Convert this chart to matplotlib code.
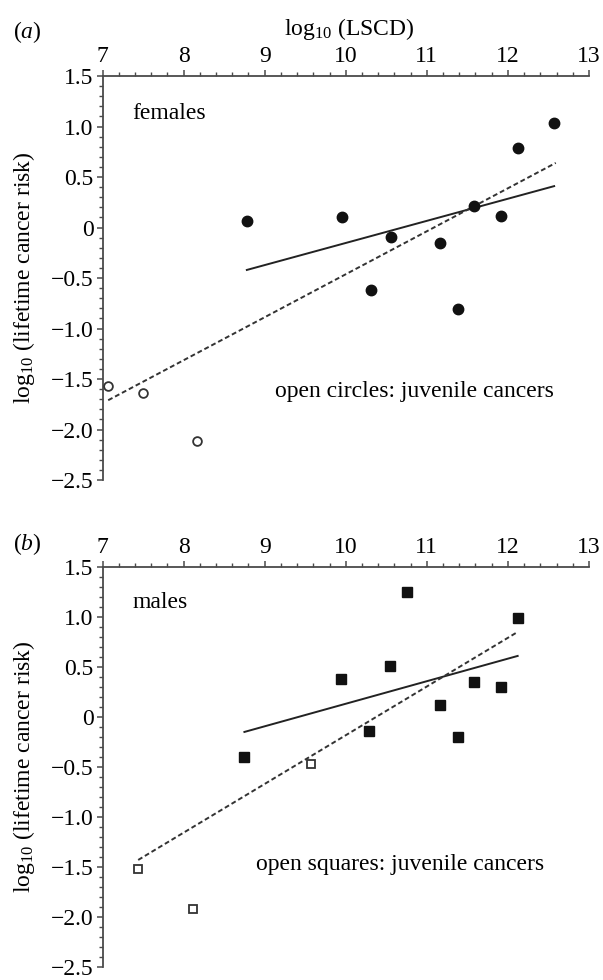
import matplotlib
matplotlib.use('Agg')
import matplotlib.pyplot as plt
from matplotlib.ticker import MultipleLocator
import numpy as np

plt.rcParams['font.family'] = ['Liberation Serif', 'DejaVu Serif']
plt.rcParams['mathtext.fontset'] = 'custom'
plt.rcParams['mathtext.rm'] = 'Liberation Serif'
plt.rcParams['mathtext.it'] = 'Liberation Serif:italic'

# (a) females
f_x = [8.78, 9.95, 10.31, 10.56, 11.16, 11.39, 11.58, 11.92, 12.12, 12.57]
f_y = [0.06, 0.10, -0.62, -0.09, -0.15, -0.81, 0.21, 0.11, 0.79, 1.04]
f_juv_x = [7.07, 7.50, 8.16]
f_juv_y = [-1.57, -1.64, -2.11]
f_fit_x = [8.78, 12.57]
f_fit_y = [-0.42, 0.41]
f_fit_all_x = [7.07, 12.59]
f_fit_all_y = [-1.71, 0.64]

# (b) males
m_x = [8.74, 9.94, 10.29, 10.55, 10.75, 11.16, 11.39, 11.58, 11.92, 12.12]
m_y = [-0.40, 0.38, -0.14, 0.51, 1.25, 0.12, -0.20, 0.35, 0.30, 0.99]
m_juv_x = [7.44, 8.12, 9.57]
m_juv_y = [-1.52, -1.92, -0.47]
m_fit_x = [8.75, 12.12]
m_fit_y = [-0.15, 0.61]
m_fit_all_x = [7.44, 12.12]
m_fit_all_y = [-1.43, 0.85]

xticks = [7, 8, 9, 10, 11, 12, 13]
yticks = [1.5, 1.0, 0.5, 0, -0.5, -1.0, -1.5, -2.0, -2.5]
ytick_labels = ['1.5', '1.0', '0.5', '0', '\u22120.5', '\u22121.0', '\u22121.5', '\u22122.0', '\u22122.5']

fs = 17
axcol = '#4a4a4a'

fig = plt.figure(figsize=(6.03, 9.8), dpi=100)
ax_a = fig.add_axes([0.170, 0.5102, 0.8068, 0.4122])
ax_b = fig.add_axes([0.170, 0.0133, 0.8068, 0.4082])


def style(ax):
    ax.set_xlim(7, 13)
    ax.set_ylim(-2.5, 1.5)
    ax.xaxis.tick_top()
    ax.spines['bottom'].set_visible(False)
    ax.spines['right'].set_visible(False)
    for s in ['top', 'left']:
        ax.spines[s].set_color(axcol)
        ax.spines[s].set_linewidth(1.3)
    ax.set_xticks(xticks)
    ax.set_xticklabels([str(t) for t in xticks])
    ax.set_yticks(yticks)
    ax.set_yticklabels(ytick_labels)
    ax.xaxis.set_minor_locator(MultipleLocator(0.2))
    ax.yaxis.set_minor_locator(MultipleLocator(0.1))
    ax.tick_params(which='major', direction='out', length=4.5, width=1.1,
                   color=axcol, labelsize=fs, pad=2)
    ax.tick_params(which='minor', direction='out', length=3, width=1.0,
                   color=axcol)
    ax.set_ylabel(r'log$_{10}$ (lifetime cancer risk)', fontsize=fs)
    ax.yaxis.set_label_coords(-0.135, 0.5)
    ax.patch.set_alpha(0)


for ax in (ax_a, ax_b):
    style(ax)

# panel a
ax_a.plot(f_fit_x, f_fit_y, color='#222222', lw=1.4, zorder=2)
ax_a.plot(f_fit_all_x, f_fit_all_y, color='#333333', lw=1.4,
          linestyle=(0, (2.5, 1.5)), zorder=2)
ax_a.plot(f_x, f_y, 'o', color='#111111', markersize=7.5, zorder=3)
ax_a.plot(f_juv_x, f_juv_y, 'o', markerfacecolor='white',
          markeredgecolor='#333333', markeredgewidth=1.3, markersize=6.3, zorder=3)
ax_a.text(0.062, 0.908, 'females', transform=ax_a.transAxes, fontsize=fs,
          ha='left', va='center')
ax_a.text(0.354, 0.218, 'open circles: juvenile cancers', transform=ax_a.transAxes,
          fontsize=fs, ha='left', va='center')
ax_a.text(0.507, 1.117, r'log$_{10}$ (LSCD)', transform=ax_a.transAxes,
          fontsize=fs, ha='center', va='center')

# panel b
ax_b.plot(m_fit_x, m_fit_y, color='#222222', lw=1.4, zorder=2)
ax_b.plot(m_fit_all_x, m_fit_all_y, color='#333333', lw=1.4,
          linestyle=(0, (2.5, 1.5)), zorder=2)
ax_b.plot(m_x, m_y, 's', color='#111111', markersize=7.2, zorder=3)
ax_b.plot(m_juv_x, m_juv_y, 's', markerfacecolor='white',
          markeredgecolor='#333333', markeredgewidth=1.3, markersize=6.3, zorder=3)
ax_b.text(0.062, 0.911, 'males', transform=ax_b.transAxes, fontsize=fs,
          ha='left', va='center')
ax_b.text(0.316, 0.255, 'open squares: juvenile cancers', transform=ax_b.transAxes,
          fontsize=fs, ha='left', va='center')

fig.text(13 / 603, 1 - 32 / 980, r'($\it{a}$)', fontsize=fs, ha='left', va='center')
fig.text(13 / 603, 1 - 544 / 980, r'($\it{b}$)', fontsize=fs, ha='left', va='center')

fig.savefig('out.png', dpi=100)
